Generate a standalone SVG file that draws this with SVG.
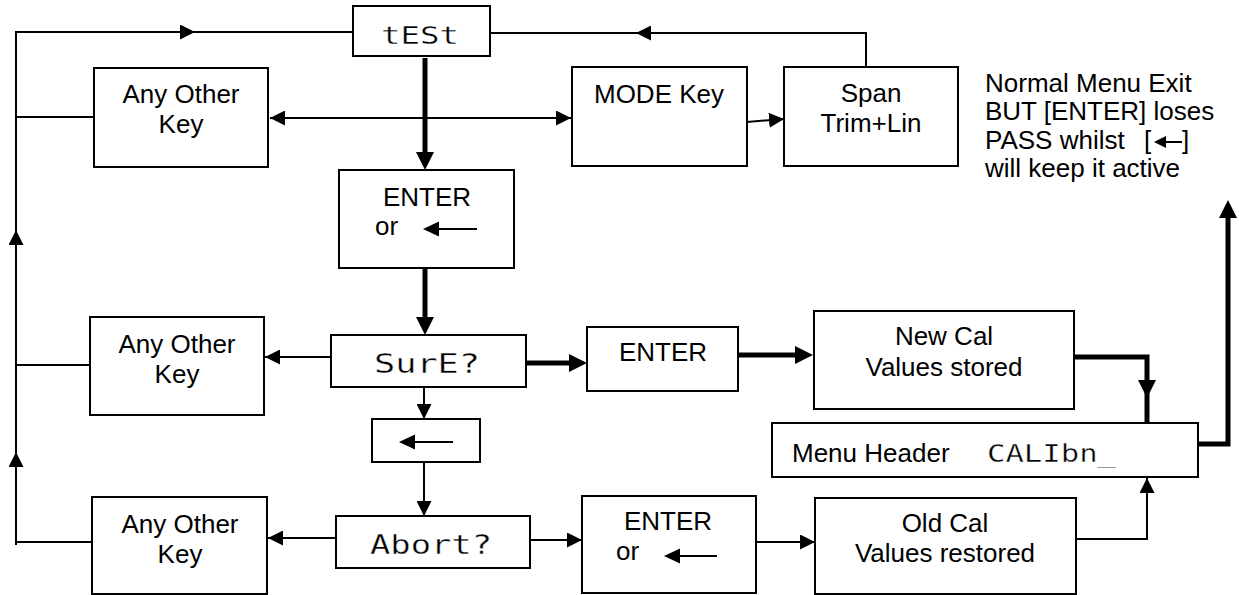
<svg xmlns="http://www.w3.org/2000/svg" width="1239" height="595" viewBox="0 0 1239 595">
<style>
.box{fill:#fff;stroke:#000;stroke-width:2}
.t{font-family:"Liberation Sans",Arial,sans-serif;font-size:26px;fill:#000}
.mid{text-anchor:middle}
.m{font-family:"DejaVu Sans Mono",monospace;fill:#000;stroke:#fff;stroke-width:0.35px}
.c{fill:none;stroke:#000;stroke-width:2}
.k{fill:none;stroke:#000;stroke-width:5}
.ah{fill:#000;stroke:none}
</style>
<defs>
<marker id="a" markerUnits="userSpaceOnUse" markerWidth="15" markerHeight="15" refX="15" refY="7.5" orient="auto-start-reverse">
<path d="M0,0 L15,7.5 L0,15 z" fill="#000"/>
</marker>
<marker id="ak" markerUnits="userSpaceOnUse" markerWidth="18" markerHeight="18" refX="12" refY="9" orient="auto">
<path d="M0,0 L18,9 L0,18 z" fill="#000"/>
</marker>
</defs>
<rect width="1239" height="595" fill="#fff"/>
<g id="connectors">
<path class="c" d="M16,545 L16,452" marker-end="url(#a)"/>
<path class="c" d="M16,452 L16,230" marker-end="url(#a)"/>
<path class="c" d="M16,230 L16,32 L195,32" marker-end="url(#a)"/>
<path class="c" d="M195,32 L353,32"/>
<path class="c" d="M866,67 L866,33 L636,33" marker-end="url(#a)"/>
<path class="c" d="M636,33 L490,33"/>
<path class="c" d="M16,117 L94,117"/>
<path class="c" d="M16,365 L90,365"/>
<path class="c" d="M16,542 L92,542"/>
<path class="c" d="M270,118 L571,118" marker-start="url(#a)" marker-end="url(#a)"/>
<path class="c" d="M747,122 L784,119" marker-end="url(#a)"/>
<path class="k" d="M425,58 L425,164" marker-end="url(#ak)"/>
<path class="k" d="M425,268 L425,329" marker-end="url(#ak)"/>
<path class="c" d="M331,357 L265,357" marker-end="url(#a)"/>
<path class="k" d="M526,363 L581,363" marker-end="url(#ak)"/>
<path class="k" d="M738,355 L807,355" marker-end="url(#ak)"/>
<path class="k" d="M1074,357 L1147,357 L1147,392" marker-end="url(#ak)"/>
<path class="k" d="M1147,392 L1147,423"/>
<path class="k" d="M1198,444 L1228,444 L1228,206" marker-end="url(#ak)"/>
<path class="c" d="M424,387 L424,419" marker-end="url(#a)"/>
<path class="c" d="M424,462 L424,516" marker-end="url(#a)"/>
<path class="c" d="M336,538 L268,538" marker-end="url(#a)"/>
<path class="c" d="M530,540 L582,540" marker-end="url(#a)"/>
<path class="c" d="M756,542 L815,542" marker-end="url(#a)"/>
<path class="c" d="M1076,539 L1147,539 L1147,478" marker-end="url(#a)"/>
</g>
<g id="test">
<rect class="box" x="353" y="6" width="137" height="50"/>
<text class="m" x="381" y="44" font-size="24" textLength="78" lengthAdjust="spacingAndGlyphs">tESt</text>
</g>
<g id="anyother1">
<rect class="box" x="94" y="68" width="174" height="99"/>
<text class="t mid" x="181" y="103">Any Other</text>
<text class="t mid" x="181" y="133">Key</text>
</g>
<g id="modekey">
<rect class="box" x="572" y="67" width="175" height="99"/>
<text class="t mid" x="659" y="103">MODE Key</text>
</g>
<g id="span">
<rect class="box" x="784" y="67" width="174" height="99"/>
<text class="t mid" x="871" y="102">Span</text>
<text class="t mid" x="871" y="132">Trim+Lin</text>
</g>
<g id="note">
<text class="t" x="985" y="92">Normal Menu Exit</text>
<text class="t" x="985" y="120">BUT [ENTER] loses</text>
<text class="t" x="985" y="149">PASS whilst <tspan x="1144">[</tspan><tspan x="1182">]</tspan></text>
<path class="ah" d="M1154,142 L1166,136 L1166,148 z"/>
<path class="c" d="M1165,142 L1182,142"/>
<text class="t" x="985" y="177">will keep it active</text>
</g>
<g id="enter1">
<rect class="box" x="339" y="170" width="175" height="98"/>
<text class="t mid" x="427" y="206">ENTER</text>
<text class="t" x="375" y="235">or</text>
<path class="ah" d="M423,229 L439,221.5 L439,236.5 z"/>
<path class="c" d="M438,229 L477,229"/>
</g>
<g id="sure">
<rect class="box" x="331" y="335" width="195" height="52"/>
<text class="m" x="374" y="373" font-size="26" textLength="106" lengthAdjust="spacingAndGlyphs">SurE?</text>
</g>
<g id="anyother2">
<rect class="box" x="90" y="317" width="174" height="98"/>
<text class="t mid" x="177" y="353">Any Other</text>
<text class="t mid" x="177" y="383">Key</text>
</g>
<g id="enter2">
<rect class="box" x="587" y="327" width="151" height="64"/>
<text class="t mid" x="663" y="361">ENTER</text>
</g>
<g id="newcal">
<rect class="box" x="814" y="311" width="260" height="98"/>
<text class="t mid" x="944" y="345">New Cal</text>
<text class="t mid" x="944" y="376">Values stored</text>
</g>
<g id="backkey">
<rect class="box" x="372" y="419" width="108" height="43"/>
<path class="ah" d="M399,442 L415,434.5 L415,449.5 z"/>
<path class="c" d="M414,442 L453,442"/>
</g>
<g id="menuheader">
<rect class="box" x="772" y="423" width="426" height="54"/>
<text class="t" x="792" y="462">Menu Header</text>
<text class="m" x="987" y="462" font-size="24" textLength="129" lengthAdjust="spacingAndGlyphs">CALIbn_</text>
</g>
<g id="abort">
<rect class="box" x="336" y="516" width="194" height="52"/>
<text class="m" x="370" y="554" font-size="26" textLength="122" lengthAdjust="spacingAndGlyphs">Abort?</text>
</g>
<g id="anyother3">
<rect class="box" x="92" y="497" width="175" height="97"/>
<text class="t mid" x="180" y="533">Any Other</text>
<text class="t mid" x="180" y="563">Key</text>
</g>
<g id="enter3">
<rect class="box" x="582" y="496" width="174" height="97"/>
<text class="t mid" x="668" y="530">ENTER</text>
<text class="t" x="616" y="560">or</text>
<path class="ah" d="M664,556 L680,548.5 L680,563.5 z"/>
<path class="c" d="M679,556 L717,556"/>
</g>
<g id="oldcal">
<rect class="box" x="815" y="498" width="261" height="96"/>
<text class="t mid" x="945" y="532">Old Cal</text>
<text class="t mid" x="945" y="562">Values restored</text>
</g>
</svg>
